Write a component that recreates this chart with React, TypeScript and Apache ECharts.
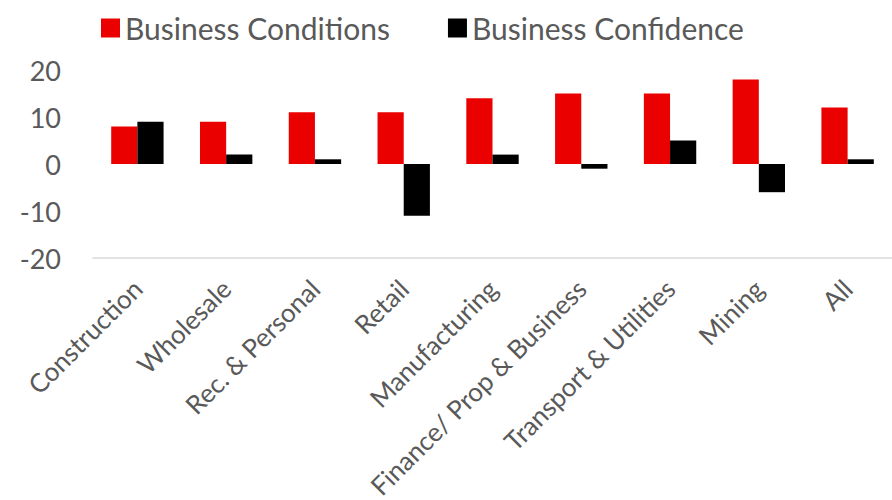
import React, { useEffect, useRef } from "react";
import * as echarts from "echarts";

const categories = [
  "Construction",
  "Wholesale",
  "Rec. & Personal",
  "Retail",
  "Manufacturing",
  "Finance/ Prop & Business",
  "Transport & Utilities",
  "Mining",
  "All",
];
const businessConditions = [8, 9, 11, 11, 14, 15, 15, 18, 12];
const businessConfidence = [9, 2, 1, -11, 2, -1, 5, -6, 1];
const yTicks = { min: -20, max: 20, interval: 10 };

const FONT = "Lato";
const TEXT = "#595959";

export default function App() {
  const ref = useRef<HTMLDivElement>(null);
  useEffect(() => {
    if (!ref.current) return;
    const chart = echarts.init(ref.current, undefined, { renderer: "svg" });
    chart.setOption({
      animation: false,
      textStyle: { fontFamily: FONT },
      legend: {
        top: 8,
        left: 96,
        itemWidth: 19,
        itemHeight: 19,
        itemGap: 58,
        icon: "rect",
        textStyle: { fontSize: 30, color: TEXT, fontFamily: FONT },
        data: ["Business Conditions", "Business Confidence"],
      },
      grid: {
        left: 93,
        right: 0,
        top: 70,
        bottom: 242,
        containLabel: false,
        outerBoundsMode: "none",
      },
      xAxis: {
        type: "category",
        data: categories,
        axisLine: { onZero: false, lineStyle: { color: "#d9d9d9", width: 1.5 } },
        axisTick: { show: false },
        axisLabel: {
          rotate: 45,
          interval: 0,
          margin: 26,
          fontSize: 26,
          color: TEXT,
          fontFamily: FONT,
        },
      },
      yAxis: {
        type: "value",
        min: yTicks.min,
        max: yTicks.max,
        interval: yTicks.interval,
        splitLine: { show: false },
        axisLine: { show: false },
        axisTick: { show: false },
        axisLabel: { fontSize: 27, color: TEXT, margin: 32, fontFamily: FONT },
      },
      series: [
        {
          name: "Business Conditions",
          type: "bar",
          data: businessConditions,
          barGap: "0%",
          barCategoryGap: "41%",
          itemStyle: { color: "#eb0000" },
        },
        {
          name: "Business Confidence",
          type: "bar",
          data: businessConfidence,
          itemStyle: { color: "#000000" },
        },
      ],
    });
    return () => chart.dispose();
  }, []);
  return <div ref={ref} style={{ width: 892, height: 500, position: "absolute", left: 0, top: 0 }} />;
}
